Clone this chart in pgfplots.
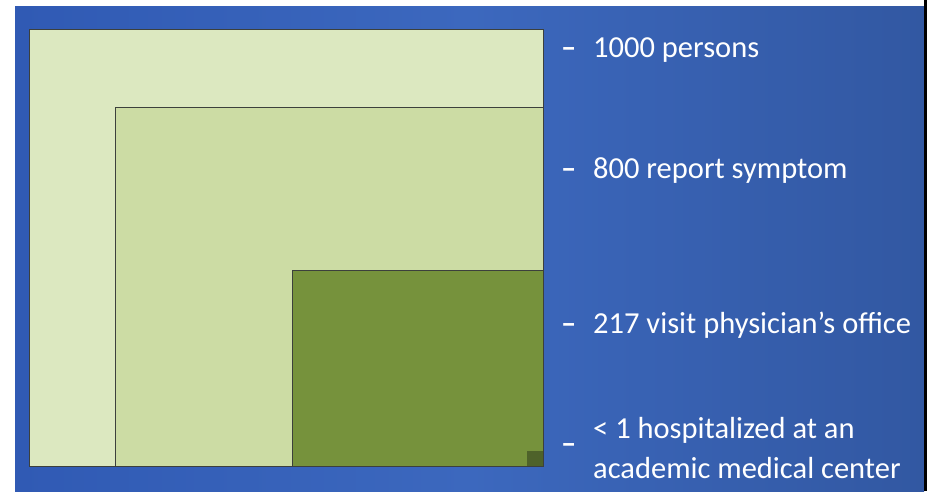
\documentclass[border=0pt]{standalone}
\usepackage{pgfplots}
\pgfplotsset{compat=1.18}
\usepackage{fontspec}
\setmainfont{Carlito}
\definecolor{bgL}{RGB}{48,90,180}
\definecolor{bgM}{RGB}{60,104,190}
\definecolor{bgR}{RGB}{50,88,162}
\definecolor{boxA}{RGB}{220,232,192}
\definecolor{boxB}{RGB}{204,220,164}
\definecolor{boxC}{RGB}{118,146,60}
\definecolor{boxD}{RGB}{78,98,42}
\definecolor{edge}{RGB}{60,64,60}
\begin{document}
\begin{tikzpicture}
\begin{axis}[
  x=1pt, y=1pt,
  xmin=0, xmax=930, ymin=0, ymax=491,
  y dir=reverse,
  hide axis, clip=false,
  scale only axis,
]
% page and slide background
\addplot[draw=none, fill=white] coordinates {(0,0) (930,0) (930,491) (0,491)} -- cycle;
\addplot[draw=none, left color=bgL, right color=bgR, middle color=bgM]
  coordinates {(15,6) (924,6) (924,491) (15,491)} -- cycle;
\addplot[draw=none, fill=black] coordinates {(924,0) (927,0) (927,491) (924,491)} -- cycle;

% nested boxes, all anchored at the lower right corner
% 1000 persons
\addplot[draw=edge, line width=1pt, fill=boxA]
  coordinates {(29,29) (543,29) (543,466) (29,466)} -- cycle;
% 800 report symptom
\addplot[draw=edge, line width=1pt, fill=boxB]
  coordinates {(115,107) (543,107) (543,466) (115,466)} -- cycle;
% 217 visit physician's office
\addplot[draw=edge, line width=1pt, fill=boxC]
  coordinates {(292,270) (543,270) (543,466) (292,466)} -- cycle;
% < 1 hospitalized
\addplot[draw=none, fill=boxD]
  coordinates {(527,451) (543,451) (543,466) (527,466)} -- cycle;

% labels
\begin{scope}[every node/.style={text=white, font=\fontsize{30.5}{35}\selectfont, inner sep=0pt}]
\node[anchor=base west] at (axis cs:561,57) {\bfseries –};
\node[anchor=base west] at (axis cs:593,57) {1000 persons};
\node[anchor=base west] at (axis cs:561,178) {\bfseries –};
\node[anchor=base west] at (axis cs:593,178) {800 report symptom};
\node[anchor=base west] at (axis cs:561,333) {\bfseries –};
\node[anchor=base west] at (axis cs:593,333) {217 visit physician’s office};
\node[anchor=base west] at (axis cs:561,453) {\bfseries –};
\node[anchor=base west] at (axis cs:593,438) {< 1 hospitalized at an};
\node[anchor=base west] at (axis cs:593,478) {academic medical center};
\end{scope}
\end{axis}
\end{tikzpicture}
\end{document}
